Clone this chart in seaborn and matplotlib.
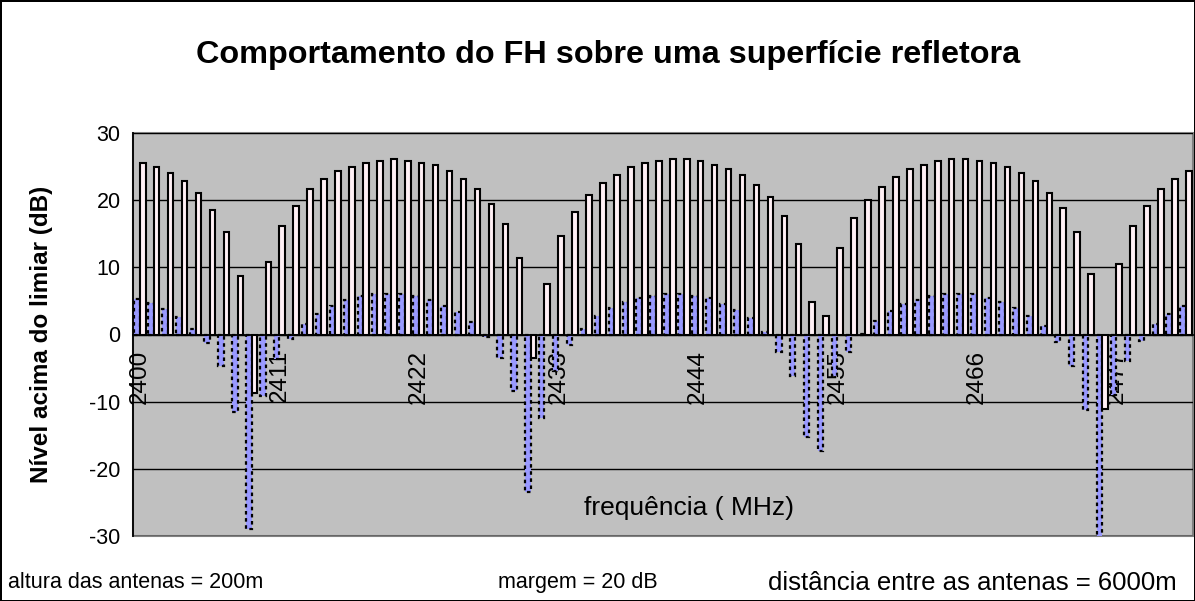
import numpy as np
import pandas as pd
import matplotlib
matplotlib.use("Agg")
import matplotlib.pyplot as plt
import seaborn as sns

# canais de 1,1 MHz a partir de 2400 MHz (76 canais)
canais = list(range(76))
rotulos_x = ["2400", "2411", "2422", "2433", "2444", "2455", "2466", "2477"]
pos_rotulos = [0, 10, 20, 30, 40, 50, 60, 70]

# nivel acima do limiar (dB) - serie com margem (branca)
nivel_branco = [
    25.5, 24.9, 24.0, 22.8, 21.0, 18.6, 15.3, 8.7, -8.7, 10.8,
    16.2, 19.2, 21.6, 23.1, 24.3, 24.9, 25.5, 25.8, 26.1, 25.8,
    25.5, 25.2, 24.3, 23.1, 21.6, 19.5, 16.5, 11.4, -3.5, 7.5,
    14.7, 18.3, 20.7, 22.5, 23.7, 24.9, 25.5, 25.8, 26.1, 26.1,
    25.8, 25.2, 24.6, 23.7, 22.2, 20.4, 17.7, 13.5, 4.8, 2.7,
    12.9, 17.4, 20.0, 21.9, 23.4, 24.6, 25.2, 25.8, 26.1, 26.1,
    25.8, 25.5, 24.9, 24.0, 22.8, 21.0, 18.9, 15.3, 9.0, -11.1,
    10.5, 16.2, 19.2, 21.6, 23.1, 24.3,
]
# serie azul (pontilhada)
nivel_azul = [
    5.3, 4.7, 3.8, 2.6, 0.8, -1.2, -4.7, -11.6, -29.0, -9.2,
    -3.7, -0.7, 1.5, 3.0, 4.2, 5.1, 5.7, 6.0, 6.0, 6.0,
    5.7, 5.1, 4.2, 3.3, 1.8, -0.4, -3.5, -8.4, -23.5, -12.4,
    -5.5, -1.5, 0.8, 2.7, 3.9, 4.8, 5.4, 5.7, 6.0, 6.0,
    5.7, 5.4, 4.5, 3.6, 2.4, 0.3, -2.6, -6.2, -15.2, -17.4,
    -6.2, -2.6, 0.1, 2.0, 3.5, 4.5, 5.1, 5.7, 6.0, 6.0,
    6.0, 5.4, 4.8, 3.9, 2.7, 1.2, -1.1, -4.7, -11.2, -30.6,
    -9.0, -4.0, -0.9, 1.5, 3.0, 4.2,
]

df = pd.DataFrame({
    "canal": canais * 2,
    "nivel": nivel_azul + nivel_branco,
    "serie": ["azul"] * len(canais) + ["branco"] * len(canais),
})

sns.set_style("white")
plt.rcParams["font.family"] = ["Liberation Sans", "DejaVu Sans"]
plt.rcParams["axes.unicode_minus"] = False
plt.rcParams["text.color"] = "black"
plt.rcParams["xtick.color"] = "black"
plt.rcParams["ytick.color"] = "black"

fig = plt.figure(figsize=(11.95, 6.01), dpi=100)
fig.patch.set_facecolor("white")
fig.patch.set_edgecolor("black")
fig.patch.set_linewidth(2)
ax = fig.add_axes([133 / 1195, 1 - 536 / 601, 1060 / 1195, 403 / 601])

sns.barplot(data=df, x="canal", y="nivel", hue="serie",
            hue_order=["azul", "branco"],
            palette={"azul": "#9999FF", "branco": "#FFF0F5"},
            width=0.8, legend=False, ax=ax, errorbar=None, saturation=1)

# estilos das barras
for barra in ax.containers[0]:
    barra.set_edgecolor("black")
    barra.set_linewidth(1.6)
    barra.set_linestyle((0, (1.6, 1.6)))
for barra in ax.containers[1]:
    barra.set_edgecolor("black")
    barra.set_linewidth(1.5)

ax.set_facecolor("#C0C0C0")
ax.patch.set_edgecolor("#808080")
ax.patch.set_linewidth(1.5)
ax.set_ylim(-30, 30)
ax.set_xlim(-0.5, len(canais) - 0.5)
ax.set_yticks([-30, -20, -10, 0, 10, 20, 30])
ax.yaxis.grid(True, color="black", linewidth=1)
ax.set_axisbelow(True)

for lado in ["top", "right"]:
    ax.spines[lado].set_visible(False)
ax.spines["left"].set_color("black")
ax.spines["left"].set_linewidth(1.3)
ax.spines["bottom"].set_position(("data", 0))
ax.spines["bottom"].set_color("black")
ax.spines["bottom"].set_linewidth(1.3)

ax.set_xticks(np.arange(-0.5, len(canais), 1))
ax.set_xticklabels([])
ax.set_xticks(pos_rotulos, minor=True)
ax.set_xticklabels(rotulos_x, minor=True, rotation=90, fontsize=17.5)
ax.tick_params(axis="x", which="major", direction="out", length=5, width=1, color="black")
ax.tick_params(axis="x", which="minor", length=0, pad=11)
ax.tick_params(axis="y", direction="out", length=5, width=1.2, color="black",
               labelsize=15.5, pad=4)

ax.set_xlabel("")
ax.set_ylabel("")
ax.text(0.5245, 0.07, "frequência ( MHz)", transform=ax.transAxes,
        ha="center", va="center", fontsize=19)

fig.text(0.509, 0.908, "Comportamento do FH sobre uma superfície refletora",
         ha="center", va="center", fontsize=23.3, fontweight="bold")
fig.text(0.035, 0.443, "Nível acima do limiar (dB)", rotation=90,
         ha="center", va="center", fontsize=17.5, fontweight="bold")
fig.text(0.007, 0.03, "altura das antenas = 200m", ha="left", va="center", fontsize=15.5)
fig.text(0.417, 0.03, "margem = 20 dB", ha="left", va="center", fontsize=15.5)
fig.text(0.643, 0.03, "distância entre as antenas = 6000m", ha="left", va="center",
         fontsize=18.5)

fig.savefig("out.png", dpi=100, facecolor=fig.get_facecolor(),
            edgecolor=fig.get_edgecolor())
